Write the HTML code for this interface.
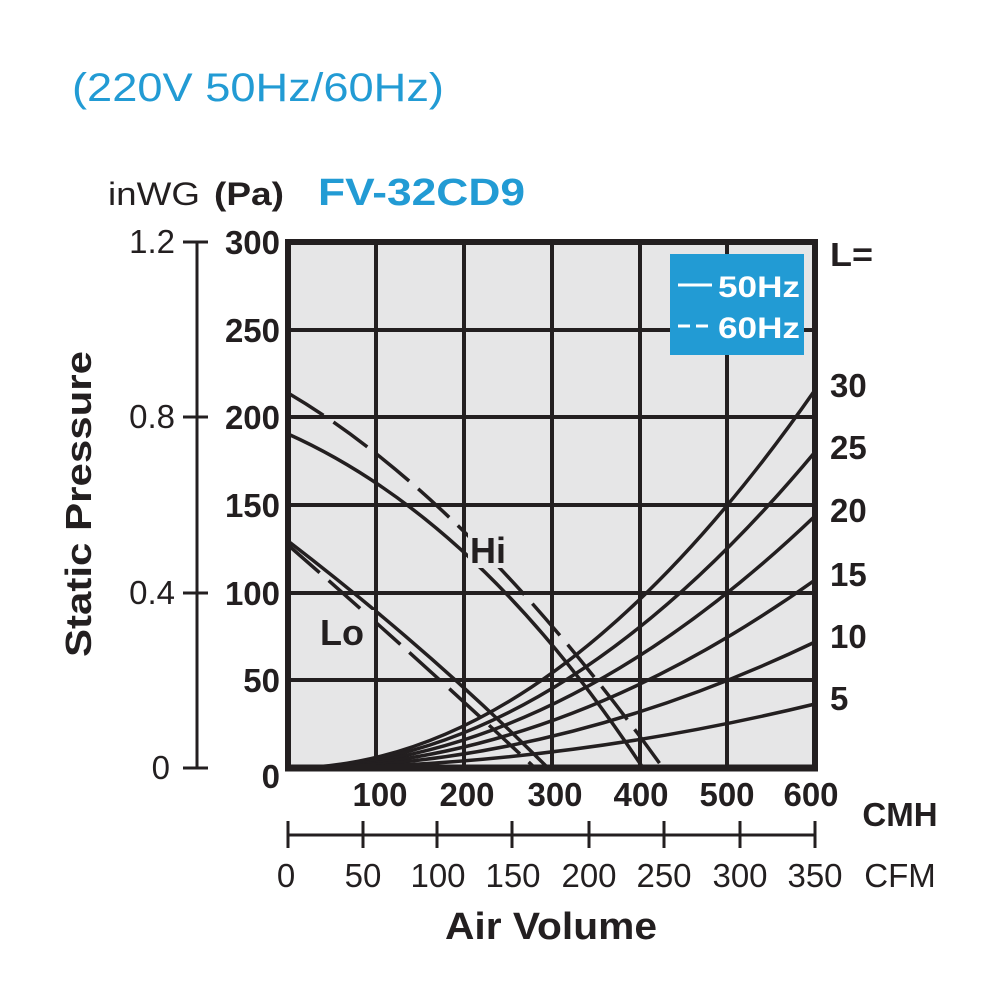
<!DOCTYPE html>
<html><head><style>
body{margin:0;background:#fff;}
svg{display:block;font-family:"Liberation Sans",Arial,sans-serif;}
</style></head><body>
<svg width="1000" height="1000" viewBox="0 0 1000 1000">
<text x="72" y="101" font-size="40" fill="#229bd4" textLength="372" lengthAdjust="spacingAndGlyphs">(220V 50Hz/60Hz)</text>
<text x="108" y="205" font-size="32" fill="#231f20" textLength="92" lengthAdjust="spacingAndGlyphs">inWG</text>
<text x="214" y="205" font-size="32" font-weight="bold" fill="#231f20" textLength="70" lengthAdjust="spacingAndGlyphs">(Pa)</text>
<text x="318" y="205" font-size="38" font-weight="bold" fill="#229bd4" textLength="207" lengthAdjust="spacingAndGlyphs">FV-32CD9</text>
<rect x="288" y="242" width="527" height="526" fill="#e6e6e7"/>
<g stroke="#231f20" stroke-width="4">
<line x1="376" y1="242" x2="376" y2="768"/><line x1="464" y1="242" x2="464" y2="768"/>
<line x1="552" y1="242" x2="552" y2="768"/><line x1="640" y1="242" x2="640" y2="768"/>
<line x1="727" y1="242" x2="727" y2="768"/>
<line x1="288" y1="330" x2="815" y2="330"/><line x1="288" y1="417" x2="815" y2="417"/>
<line x1="288" y1="505" x2="815" y2="505"/><line x1="288" y1="593" x2="815" y2="593"/>
<line x1="288" y1="680" x2="815" y2="680"/>
</g>
<rect x="670" y="254" width="134" height="101" fill="#229bd4"/>
<line x1="678" y1="285" x2="712" y2="285" stroke="#fff" stroke-width="3"/>
<line x1="678" y1="326" x2="712" y2="326" stroke="#fff" stroke-width="3" stroke-dasharray="12,6"/>
<text x="718" y="297" font-size="30" font-weight="bold" fill="#fff" textLength="82" lengthAdjust="spacingAndGlyphs">50Hz</text>
<text x="718" y="338" font-size="30" font-weight="bold" fill="#fff" textLength="82" lengthAdjust="spacingAndGlyphs">60Hz</text>
<g stroke="#231f20" stroke-width="3.5" fill="none">
<path d="M288,768 Q551,768 815,390"/>
<path d="M288,768 Q551,768 815,452"/>
<path d="M288,768 Q551,768 815,516"/>
<path d="M288,768 Q551,768 815,580"/>
<path d="M288,768 Q551,768 815,642"/>
<path d="M288,768 Q551,768 815,704"/>
<path d="M288,434 Q480,520 643,768"/>
<path d="M288,541 Q430,650 548,768"/>
<path d="M288,393 Q470,500 663,768" stroke-dasharray="42,12"/>
<path d="M288,545 Q420,660 535,768" stroke-dasharray="42,12"/>
</g>
<rect x="468" y="528" width="50" height="40" fill="#e6e6e7"/>
<text x="470" y="563" font-size="36" font-weight="bold" fill="#231f20">Hi</text>
<rect x="318" y="610" width="56" height="40" fill="#e6e6e7"/>
<text x="320" y="645" font-size="36" font-weight="bold" fill="#231f20">Lo</text>
<rect x="288" y="242" width="527" height="526" fill="none" stroke="#231f20" stroke-width="6"/>
<line x1="285" y1="768" x2="818" y2="768" stroke="#231f20" stroke-width="7"/>
<g stroke="#231f20" stroke-width="3">
<line x1="197" y1="242" x2="197" y2="768"/>
<line x1="183" y1="242" x2="208" y2="242"/><line x1="183" y1="417" x2="208" y2="417"/>
<line x1="183" y1="593" x2="208" y2="593"/><line x1="183" y1="768" x2="208" y2="768"/>
</g>
<g font-size="33" fill="#231f20" text-anchor="end">
<text x="175" y="253">1.2</text><text x="175" y="428">0.8</text><text x="175" y="604">0.4</text><text x="170" y="779">0</text>
</g>
<g font-size="33" font-weight="bold" fill="#231f20" text-anchor="end">
<text x="280" y="254">300</text><text x="280" y="342">250</text><text x="280" y="429">200</text>
<text x="280" y="517">150</text><text x="280" y="605">100</text><text x="280" y="692">50</text><text x="280" y="788">0</text>
</g>
<text transform="translate(91,504) rotate(-90)" font-size="36" font-weight="bold" fill="#231f20" text-anchor="middle" textLength="306" lengthAdjust="spacingAndGlyphs">Static Pressure</text>
<g font-size="33" font-weight="bold" fill="#231f20">
<text x="830" y="266" textLength="43" lengthAdjust="spacingAndGlyphs">L=</text>
<text x="830" y="397">30</text><text x="830" y="459">25</text><text x="830" y="522">20</text>
<text x="830" y="586">15</text><text x="830" y="648">10</text><text x="830" y="710">5</text>
</g>
<g font-size="33" font-weight="bold" fill="#231f20" text-anchor="middle">
<text x="380" y="806">100</text><text x="467" y="806">200</text><text x="555" y="806">300</text>
<text x="641" y="806">400</text><text x="727" y="806">500</text><text x="811" y="806">600</text>
<text x="900" y="826">CMH</text>
</g>
<g stroke="#231f20" stroke-width="3">
<line x1="288" y1="835" x2="815" y2="835"/>
<line x1="288" y1="821" x2="288" y2="848"/><line x1="363" y1="821" x2="363" y2="848"/>
<line x1="437" y1="821" x2="437" y2="848"/><line x1="512" y1="821" x2="512" y2="848"/>
<line x1="589" y1="821" x2="589" y2="848"/><line x1="664" y1="821" x2="664" y2="848"/>
<line x1="740" y1="821" x2="740" y2="848"/><line x1="815" y1="821" x2="815" y2="848"/>
</g>
<g font-size="33" fill="#231f20" text-anchor="middle">
<text x="286" y="887">0</text><text x="363" y="887">50</text><text x="438" y="887">100</text>
<text x="513" y="887">150</text><text x="589" y="887">200</text><text x="664" y="887">250</text>
<text x="740" y="887">300</text><text x="815" y="887">350</text><text x="900" y="887">CFM</text>
</g>
<text x="551" y="939" font-size="38" font-weight="bold" fill="#231f20" text-anchor="middle" textLength="212" lengthAdjust="spacingAndGlyphs">Air Volume</text>
</svg>
</body></html>
